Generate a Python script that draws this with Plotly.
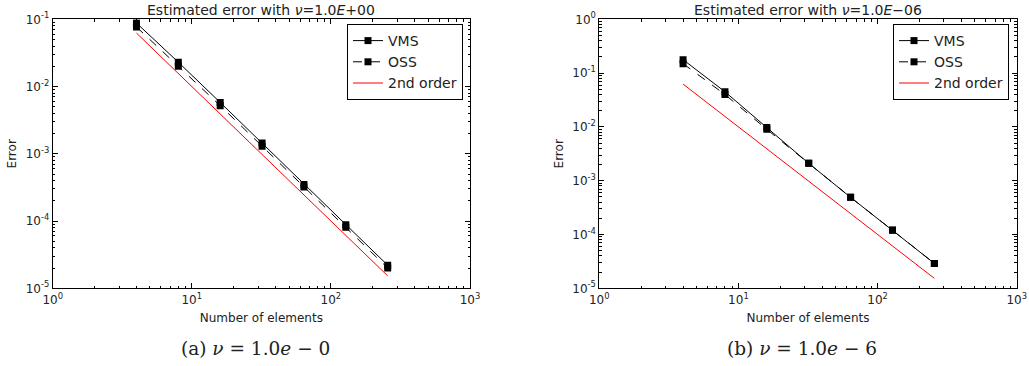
import plotly.graph_objects as go

# ---- data ----
n_elements = [4, 8, 16, 32, 64, 128, 256]
vms_a = [0.088, 0.023, 0.0058, 0.00145, 3.5e-4, 8.8e-5, 2.2e-5]
oss_a = [0.077, 0.020, 0.0052, 0.0013, 3.2e-4, 8.1e-5, 2.0e-5]
vms_b = [0.178, 0.045, 0.0097, 0.0021, 4.9e-4, 1.21e-4, 2.9e-5]
oss_b = [0.150, 0.040, 0.0090, 0.0021, 4.9e-4, 1.20e-4, 2.9e-5]
order2 = [0.0625, 0.0156, 0.0039, 0.000977, 0.000244, 6.1e-5, 1.53e-5]

x_tickvals = [1, 10, 100, 1000]
x_ticktext = ["10<sup>0</sup>", "10<sup>1</sup>", "10<sup>2</sup>", "10<sup>3</sup>"]
ya_tickvals = [1e-5, 1e-4, 1e-3, 1e-2, 1e-1]
ya_ticktext = ["10<sup>-5</sup>", "10<sup>-4</sup>", "10<sup>-3</sup>", "10<sup>-2</sup>", "10<sup>-1</sup>"]
yb_tickvals = [1e-5, 1e-4, 1e-3, 1e-2, 1e-1, 1]
yb_ticktext = ["10<sup>-5</sup>", "10<sup>-4</sup>", "10<sup>-3</sup>", "10<sup>-2</sup>", "10<sup>-1</sup>", "10<sup>0</sup>"]
titles = ["Estimated error with <i>ν</i>=1.0<i>E</i>+00", "Estimated error with <i>ν</i>=1.0<i>E</i>−06"]
captions = ["(a) <i>ν</i> = 1.0<i>e</i> − 0", "(b) <i>ν</i> = 1.0<i>e</i> − 6"]

W, H = 1029, 366
FONT = "DejaVu Sans"

fig = go.Figure()

def add_panel(idx, vms, oss):
    xa = "x" if idx == 1 else "x2"
    ya = "y" if idx == 1 else "y2"
    lg = "legend" if idx == 1 else "legend2"
    fig.add_trace(go.Scatter(x=n_elements, y=vms, name="VMS", mode="lines+markers",
                             line=dict(color="black", width=1),
                             marker=dict(symbol="square", size=7, color="black"),
                             xaxis=xa, yaxis=ya, legend=lg))
    fig.add_trace(go.Scatter(x=n_elements, y=oss, name="OSS", mode="lines+markers",
                             line=dict(color="black", width=1, dash="dash"),
                             marker=dict(symbol="square", size=7, color="black"),
                             xaxis=xa, yaxis=ya, legend=lg))
    fig.add_trace(go.Scatter(x=n_elements, y=order2, name="2nd order", mode="lines",
                             line=dict(color="#ff0000", width=1),
                             xaxis=xa, yaxis=ya, legend=lg))

add_panel(1, vms_a, oss_a)
add_panel(2, vms_b, oss_b)

minor_x = [k * 10 ** e for e in range(0, 3) for k in range(2, 10)]
minor_ya = [k * 10.0 ** e for e in range(-5, -1) for k in range(2, 10)]
minor_yb = [k * 10.0 ** e for e in range(-5, 0) for k in range(2, 10)]

axis_common = dict(type="log", showgrid=False, zeroline=False, showline=True,
                   linecolor="black", linewidth=1, mirror="allticks", automargin=False,
                   ticks="inside", ticklen=5, tickcolor="black", tickwidth=1,
                   tickfont=dict(family=FONT, size=12, color="#222"))

y_top = 1 - 19.3 / H
y_bot = 1 - 288.3 / H
lab_font = dict(size=12, family=FONT, color="#222")
leg_common = dict(xanchor="right", y=1 - 24 / H, yanchor="top",
                  bordercolor="black", borderwidth=1, bgcolor="white",
                  font=dict(family=FONT, size=14, color="#222"), tracegroupgap=0,
                  itemwidth=30)

fig.update_layout(
    width=W, height=H, margin=dict(l=0, r=0, t=0, b=0, autoexpand=False),
    paper_bgcolor="white", plot_bgcolor="white",
    font=dict(family=FONT, color="#222"),
    xaxis=dict(axis_common, domain=[52.7 / W, 470 / W], range=[0, 3],
               tickvals=x_tickvals, ticktext=x_ticktext, anchor="y",
               minor=dict(tickvals=minor_x, ticks="inside", ticklen=2.5, tickcolor="black"),
               title=dict(text="Number of elements", font=lab_font, standoff=7)),
    yaxis=dict(axis_common, domain=[y_bot, y_top], range=[-5, -1],
               tickvals=ya_tickvals, ticktext=ya_ticktext, anchor="x",
               minor=dict(tickvals=minor_ya, ticks="inside", ticklen=2.5, tickcolor="black"),
               title=dict(text="Error", font=lab_font, standoff=6)),
    xaxis2=dict(axis_common, domain=[599.3 / W, 1016.7 / W], range=[0, 3],
                tickvals=x_tickvals, ticktext=x_ticktext, anchor="y2",
                minor=dict(tickvals=minor_x, ticks="inside", ticklen=2.5, tickcolor="black"),
                title=dict(text="Number of elements", font=lab_font, standoff=7)),
    yaxis2=dict(axis_common, domain=[y_bot, y_top], range=[-5, 0],
                tickvals=yb_tickvals, ticktext=yb_ticktext, anchor="x2",
                minor=dict(tickvals=minor_yb, ticks="inside", ticklen=2.5, tickcolor="black"),
                title=dict(text="Error", font=lab_font, standoff=6)),
    legend=dict(leg_common, x=463 / W),
    legend2=dict(leg_common, x=1009 / W),
    showlegend=True,
)

centers = [(52.7 + 470) / 2 / W, (599.3 + 1016.7) / 2 / W]
for i in range(2):
    fig.add_annotation(text=titles[i], x=centers[i], y=1 - 10 / H, xref="paper", yref="paper",
                       showarrow=False, xanchor="center", yanchor="middle",
                       font=dict(family=FONT, size=14, color="#222"))
    fig.add_annotation(text=captions[i], x=centers[i] - 6 / W, y=1 - 348 / H, xref="paper", yref="paper",
                       showarrow=False, xanchor="center", yanchor="middle",
                       font=dict(family="DejaVu Serif", size=18.5, color="#222"))

fig.write_html("out.html")
